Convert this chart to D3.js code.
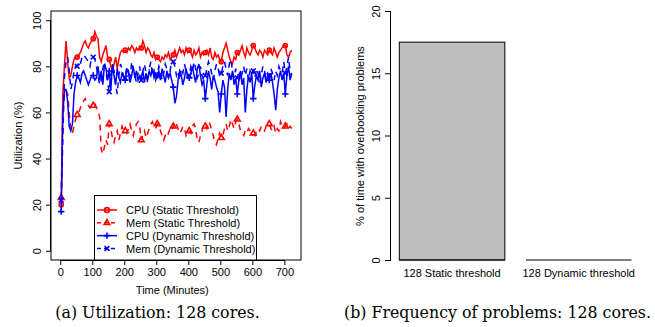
<!DOCTYPE html>
<html>
<head>
<meta charset="utf-8">
<script src="https://cdn.jsdelivr.net/npm/d3@7"></script>
<style>
body { margin: 0; background: #fff; }
text { font-family: "Liberation Sans", Arial, sans-serif; }
</style>
</head>
<body>
<svg id="chart" width="655" height="327"></svg>
<script>
// samples every 5 minutes starting at minute 3
var firstMinute = 3, stepMinutes = 5;

var cpuStatic = [
  20, 68, 80, 91, 82, 75, 76, 80, 83, 84,
  84, 85, 86, 88, 90, 91, 89, 88, 90, 91,
  92, 95, 93, 92, 84, 82, 85, 87, 89, 84,
  83, 80, 78, 81, 84, 79, 83, 86, 87, 86,
  87, 86, 88, 87, 89, 88, 86, 88, 87, 88,
  88, 91, 89, 86, 88, 87, 85, 84, 86, 83,
  84, 83, 82, 84, 83, 85, 84, 86, 83, 84,
  85, 87, 84, 86, 88, 86, 87, 85, 88, 86,
  87, 86, 84, 87, 85, 86, 88, 84, 86, 85,
  86, 87, 85, 88, 84, 83, 86, 84, 85, 83,
  82, 86, 88, 90, 87, 84, 82, 81, 84, 83,
  86, 85, 87, 89, 86, 84, 88, 86, 85, 87,
  89, 88, 86, 85, 87, 86, 84, 87, 86, 85,
  87, 86, 85, 88, 86, 84, 86, 87, 88, 89,
  89, 85, 84, 86, 87
];
var memStatic = [
  23, 62, 69, 70, 68, 60, 52, 51, 54, 57,
  59, 60, 62, 64, 65, 66, 64, 63, 62, 63,
  63, 64, 62, 61, 58, 44, 42, 45, 48, 46,
  55, 53, 49, 47, 50, 52, 48, 51, 54, 52,
  52, 51, 53, 55, 52, 50, 53, 55, 56, 54,
  48, 50, 52, 49, 51, 53, 55, 56, 54, 53,
  55, 54, 52, 50, 48, 50, 49, 51, 53, 52,
  54, 56, 55, 53, 51, 52, 54, 53, 50, 52,
  52, 51, 54, 55, 53, 48, 47, 50, 52, 55,
  54, 53, 56, 55, 52, 50, 47, 46, 49, 51,
  49, 50, 53, 55, 52, 54, 57, 55, 53, 56,
  57, 55, 52, 51, 50, 52, 51, 53, 52, 51,
  51, 50, 52, 53, 52, 54, 53, 52, 54, 55,
  55, 53, 52, 54, 51, 53, 52, 56, 54, 53,
  54, 55, 53, 54, 53
];
var cpuDynamic = [
  17, 58, 70, 70, 65, 54, 52, 55, 68, 73,
  76, 75, 73, 77, 78, 76, 74, 72, 74, 76,
  76, 74, 75, 80, 74, 78, 72, 81, 79, 74,
  78, 70, 81, 76, 72, 79, 75, 73, 77, 76,
  74, 79, 77, 73, 76, 80, 75, 78, 74, 76,
  75, 78, 73, 77, 74, 78, 76, 79, 75, 77,
  76, 78, 74, 79, 76, 73, 78, 75, 77, 74,
  71, 64, 67, 74, 78, 76, 72, 75, 79, 76,
  75, 77, 80, 76, 73, 79, 81, 76, 72, 74,
  66, 72, 78, 75, 70, 76, 74, 71, 69, 60,
  68, 74, 71, 58, 70, 77, 74, 78, 72, 75,
  68, 74, 78, 72, 75, 60, 70, 76, 73, 77,
  66, 72, 76, 74, 78, 71, 75, 77, 73, 76,
  74, 77, 73, 68, 61, 70, 75, 78, 74, 77,
  68, 76, 80, 74, 77
];
var memDynamic = [
  22, 48, 75, 82, 84, 78, 70, 73, 78, 80,
  80, 82, 81, 84, 85, 84, 83, 82, 80, 84,
  84, 83, 80, 76, 72, 74, 79, 82, 77, 73,
  69, 76, 80, 78, 72, 68, 76, 81, 79, 75,
  75, 80, 78, 74, 82, 79, 76, 73, 77, 80,
  74, 78, 81, 77, 73, 79, 82, 76, 78, 74,
  76, 80, 78, 74, 77, 81, 79, 75, 78, 82,
  82, 80, 76, 78, 74, 79, 77, 81, 78, 75,
  76, 80, 78, 82, 79, 75, 77, 80, 76, 74,
  76, 79, 82, 80, 77, 74, 78, 81, 79, 76,
  77, 80, 82, 79, 76, 81, 83, 78, 75, 79,
  75, 78, 74, 77, 80, 76, 79, 74, 78, 76,
  78, 75, 79, 77, 73, 76, 80, 78, 75, 77,
  76, 79, 77, 74, 78, 76, 80, 78, 77, 82,
  77, 80, 84, 78, 76
];

var seriesNames = ["CPU (Static Threshold)", "Mem (Static Threshold)",
                   "CPU (Dynamic Threshold)", "Mem (Dynamic Threshold)"];
var xTicks = [0, 100, 200, 300, 400, 500, 600, 700];
var yTicks = [0, 20, 40, 60, 80, 100];

var barLabels = ["128 Static threshold", "128 Dynamic threshold"];
var barValues = [17.5, 0];
var barTicks = [0, 5, 10, 15, 20];

var svg = d3.select("#chart");

// ---------- (a) utilization over time ----------
var box = {left: 51, right: 301, top: 11, bottom: 260};

var x = d3.scaleLinear().domain([-28.9, 752]).range([box.left, box.right]);
var y = d3.scaleLinear().domain([-4, 104]).range([box.bottom, box.top]);

var series = [
  {name: seriesNames[0], values: cpuStatic,  color: "#ff0000", dash: null,  marker: "circle"},
  {name: seriesNames[1], values: memStatic,  color: "#ff0000", dash: "6,5", marker: "triangle"},
  {name: seriesNames[2], values: cpuDynamic, color: "#0000ff", dash: null,  marker: "plus"},
  {name: seriesNames[3], values: memDynamic, color: "#0000ff", dash: "6,5", marker: "cross"}
];

var markerPath = {
  triangle: "M0,-3.3L2.9,1.7L-2.9,1.7Z",
  plus: "M-3.2,0H3.2M0,-3.2V3.2",
  cross: "M-2.4,-2.4L2.4,2.4M-2.4,2.4L2.4,-2.4"
};

function drawMarker(g, kind, color, px, py, r) {
  if (kind === "circle") {
    g.append("circle").attr("cx", px).attr("cy", py).attr("r", r || 2)
      .attr("fill", "none").attr("stroke", color).attr("stroke-width", 1.7);
  } else {
    g.append("path").attr("d", markerPath[kind])
      .attr("transform", "translate(" + px + "," + py + ")")
      .attr("fill", "none").attr("stroke", color).attr("stroke-width", 1.6);
  }
}

var line = d3.line()
  .x(function(d, i) { return x(firstMinute + stepMinutes * i); })
  .y(function(d) { return y(d); });

var plot = svg.append("g");

series.forEach(function(s) {
  plot.append("path")
    .attr("d", line(s.values))
    .attr("fill", "none")
    .attr("stroke", s.color)
    .attr("stroke-width", 1.5)
    .attr("stroke-dasharray", s.dash);
  s.values.forEach(function(v, i) {
    if (i % 10 === 0) drawMarker(plot, s.marker, s.color, x(firstMinute + stepMinutes * i), y(v));
  });
});

// box
svg.append("rect")
  .attr("x", box.left).attr("y", box.top)
  .attr("width", box.right - box.left).attr("height", box.bottom - box.top)
  .attr("fill", "none").attr("stroke", "#000").attr("stroke-width", 1);

// axes in R style
var xAxis = svg.append("g")
  .attr("transform", "translate(0," + box.bottom + ")")
  .call(d3.axisBottom(x).tickValues(xTicks).tickSize(5).tickPadding(3));
xAxis.selectAll("text").attr("font-size", 11).attr("fill", "#000")
  .style("font-family", "Liberation Sans, Arial, sans-serif");

var yAxis = svg.append("g")
  .attr("transform", "translate(" + box.left + ",0)")
  .call(d3.axisLeft(y).tickValues(yTicks).tickSize(5).tickPadding(3));
yAxis.selectAll(".tick text")
  .attr("font-size", 11).attr("fill", "#000")
  .attr("text-anchor", "middle")
  .attr("x", 0).attr("y", 0).attr("dy", 0)
  .attr("transform", "translate(-10,0) rotate(-90)")
  .style("font-family", "Liberation Sans, Arial, sans-serif");

[xAxis, yAxis].forEach(function(a) {
  a.select(".domain").attr("stroke", "#000");
  a.selectAll(".tick line").attr("stroke", "#000");
});
xAxis.select(".domain").attr("d", "M" + x(0) + ",0.5H" + x(700));
yAxis.select(".domain").attr("d", "M-0.5," + y(0) + "V" + y(100));

svg.append("text")
  .attr("x", (x(0) + x(700)) / 2).attr("y", 294)
  .attr("text-anchor", "middle").attr("font-size", 11)
  .text("Time (Minutes)");

svg.append("text")
  .attr("transform", "translate(22," + (box.top + box.bottom) / 2 + ") rotate(-90)")
  .attr("text-anchor", "middle").attr("font-size", 11)
  .text("Utilization (%)");

// legend
var legend = svg.append("g");
legend.append("rect")
  .attr("x", 94.5).attr("y", 195.5).attr("width", 162).attr("height", 64.5)
  .attr("fill", "#fff").attr("stroke", "#000").attr("stroke-width", 1);
var legendY = d3.scalePoint().domain(seriesNames).range([210, 248.5]);
series.forEach(function(s) {
  var ly = legendY(s.name);
  legend.append("line")
    .attr("x1", 97).attr("x2", 117).attr("y1", ly).attr("y2", ly)
    .attr("stroke", s.color).attr("stroke-width", 1.5)
    .attr("stroke-dasharray", s.dash ? "4,3" : null);
  drawMarker(legend, s.marker, s.color, 107, ly, 2.4);
  legend.append("text")
    .attr("x", 126).attr("y", ly + 4)
    .attr("font-size", 11).text(s.name);
});

// ---------- (b) frequency of problems ----------
var by = d3.scaleLinear().domain([0, 20]).range([260, 11]);
var bx = d3.scaleBand().domain(barLabels).range([399.3, 631.5])
  .paddingInner(1 / 6).paddingOuter(0);

svg.selectAll(".bar")
  .data(barLabels)
  .enter().append("rect")
  .attr("class", "bar")
  .attr("x", function(d) { return bx(d); })
  .attr("y", function(d, i) { return by(barValues[i]); })
  .attr("width", bx.bandwidth())
  .attr("height", function(d, i) { return by(0) - by(barValues[i]); })
  .attr("fill", "#bebebe")
  .attr("stroke", "#000")
  .attr("stroke-width", 1);

// outline of bars with zero height still shows as a line
svg.selectAll(".barbase")
  .data(barLabels)
  .enter().append("line")
  .attr("class", "barbase")
  .attr("x1", function(d) { return bx(d); })
  .attr("x2", function(d) { return bx(d) + bx.bandwidth(); })
  .attr("y1", by(0)).attr("y2", by(0))
  .attr("stroke", "#000").attr("stroke-width", 1.2);

var barAxis = svg.append("g")
  .attr("transform", "translate(391,0)")
  .call(d3.axisLeft(by).tickValues(barTicks).tickSize(6).tickPadding(3));
barAxis.select(".domain").attr("stroke", "#000").attr("d", "M-0.5," + by(0) + "V" + by(20));
barAxis.selectAll(".tick line").attr("stroke", "#000");
barAxis.selectAll(".tick text")
  .attr("font-size", 11).attr("fill", "#000")
  .attr("text-anchor", "middle").attr("x", 0).attr("y", 0).attr("dy", 0)
  .attr("transform", "translate(-11,0) rotate(-90)")
  .style("font-family", "Liberation Sans, Arial, sans-serif");

svg.selectAll(".barlabel")
  .data(barLabels)
  .enter().append("text")
  .attr("x", function(d) { return bx(d) + bx.bandwidth() / 2; })
  .attr("y", 276.5)
  .attr("text-anchor", "middle").attr("font-size", 11)
  .text(function(d) { return d; });

svg.append("text")
  .attr("transform", "translate(364,136) rotate(-90)")
  .attr("text-anchor", "middle").attr("font-size", 11)
  .text("% of time with overbooking problems");

// ---------- captions ----------
svg.append("text")
  .attr("x", 157.5).attr("y", 318)
  .attr("text-anchor", "middle")
  .style("font-family", "DejaVu Serif, serif").attr("font-size", 15.8)
  .text("(a) Utilization: 128 cores.");
svg.append("text")
  .attr("x", 497.5).attr("y", 318)
  .attr("text-anchor", "middle")
  .style("font-family", "DejaVu Serif, serif").attr("font-size", 15.8)
  .text("(b) Frequency of problems: 128 cores.");
</script>
</body>
</html>
